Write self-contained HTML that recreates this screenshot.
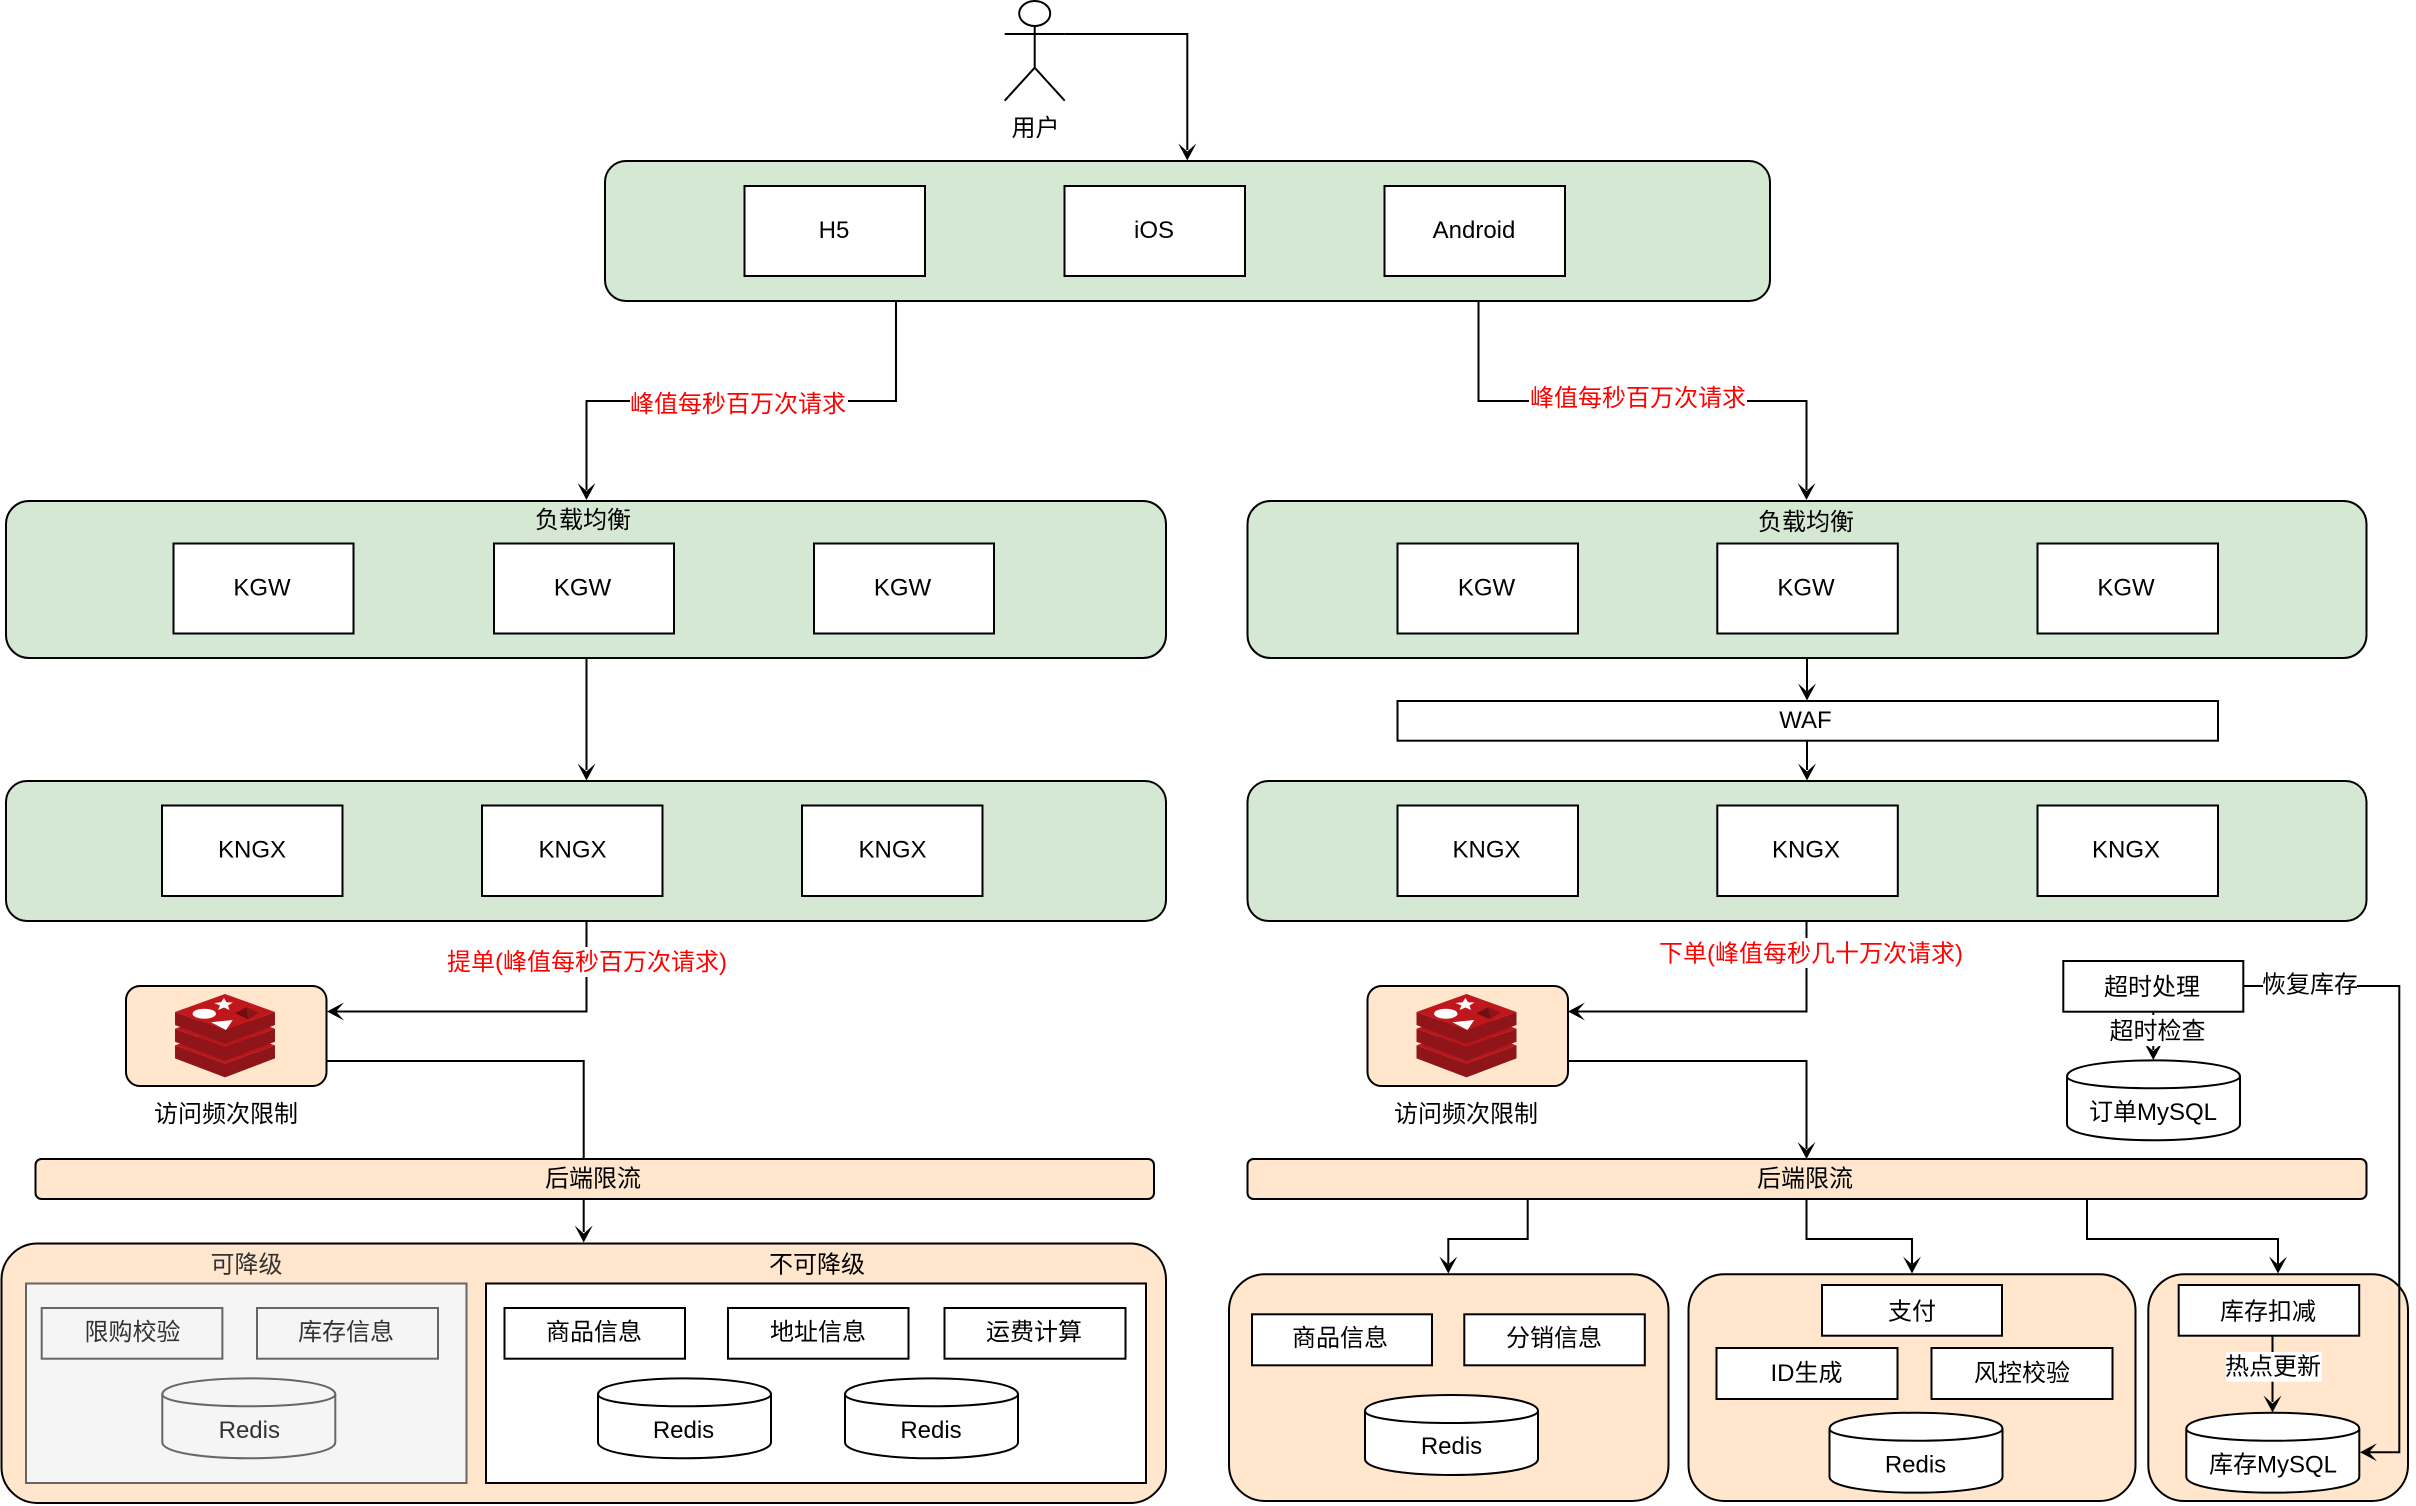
<!DOCTYPE html>
<html lang="zh">
<head>
<meta charset="utf-8">
<title>架构图</title>
<style>
html,body{margin:0;padding:0;background:#fff;width:2416px;height:1506px;overflow:hidden}
svg{display:block}
text{font-family:"Liberation Sans","Noto Sans CJK SC",sans-serif;font-size:24px;text-anchor:middle;fill:#000}
.g{fill:#d5e8d4;stroke:#000;stroke-width:2}
.o{fill:#ffe6cc;stroke:#000;stroke-width:2}
.w{fill:#fff;stroke:#000;stroke-width:2}
.y{fill:#f5f5f5;stroke:#666;stroke-width:2}
.l{fill:none;stroke:#000;stroke-width:2}
.b{fill:#fff;stroke:none}
.r{fill:#f00}
.d{fill:#333}
</style>
</head>
<body>
<svg xmlns="http://www.w3.org/2000/svg" width="2416" height="1506" viewBox="0 0 2416 1506">
<defs>
<g id="cyl">
<path d="M0 16C0 -5.300 173 -5.300 173 16V64C173 85.300 0 85.300 0 64Z"/>
<path fill="none" d="M0 16C0 32 173 32 173 16"/>
</g>
<path id="ad" d="M0 0L-17 -9L-9 0L-17 9Z" fill="#000" stroke="none"/>
<g id="redis">
<path d="M0 51.400L50 69.400L100 51.400V64.400L50 83.400L0 64.400Z" fill="#8f1518"/>
<path d="M50 33.400L100 51.400L50 69.400L0 51.400Z" fill="#b8161b"/>
<path d="M0 34.700L50 52.700L100 34.700V47.700L50 66.700L0 47.700Z" fill="#8f1518"/>
<path d="M50 16.700L100 34.700L50 52.700L0 34.700Z" fill="#b8161b"/>
<path d="M0 18L50 36L100 18V31L50 50L0 31Z" fill="#8f1518"/>
<path d="M50 0L100 18L50 36L0 18Z" fill="#bf171c"/>
<ellipse cx="29.300" cy="19.700" rx="11.700" ry="5" fill="#fff"/>
<path d="M49 4L51.500 8.200L58 8.500L53 11.500L54.500 16L49 13.500L43 16L45 11.500L39 9L46 8.200Z" fill="#fff"/>
<path d="M36 28.300L57.700 26L51 36Z" fill="#fff"/>
<path d="M60 19.300L71.700 13.300L73.300 25.300Z" fill="#6e1013"/>
<path d="M71.700 13.300L84 18.500L73.300 25.300Z" fill="#8e1417"/>
</g>
</defs>

<!-- actor -->
<ellipse class="l" cx="1034.700" cy="13.500" rx="15.500" ry="12.500"/>
<path class="l" d="M1034.700 26V67.700M1004.700 34H1064.700M1034.700 67.700L1004.700 100.700M1034.700 67.700L1064.700 100.700"/>
<text x="1035.500" y="136">用户</text>
<path class="l" d="M1064.700 34H1187.300V150"/>
<use href="#ad" transform="translate(1187.300 160.500) rotate(90)"/>

<!-- client container -->
<rect class="g" x="605" y="161" width="1165" height="140" rx="21" ry="21"/>
<rect class="w" x="744.500" y="186" width="180.500" height="90"/>
<rect class="w" x="1064.500" y="186" width="180.500" height="90"/>
<rect class="w" x="1384.500" y="186" width="180.500" height="90"/>
<text x="834" y="238">H5</text>
<text x="1154" y="238">iOS</text>
<text x="1474" y="238">Android</text>

<!-- branches -->
<path class="l" d="M896 301V401H586.500V490"/>
<use href="#ad" transform="translate(586.500 500) rotate(90)"/>
<rect class="b" x="630" y="388" width="218" height="30"/>
<text class="r" x="738" y="412">峰值每秒百万次请求</text>
<path class="l" d="M1478.500 301V401H1806.500V490"/>
<use href="#ad" transform="translate(1806.500 500) rotate(90)"/>
<rect class="b" x="1529" y="383" width="218" height="30"/>
<text class="r" x="1638" y="406">峰值每秒百万次请求</text>

<!-- LB left -->
<rect class="g" x="6" y="501" width="1160" height="157" rx="23" ry="23"/>
<text x="583" y="528">负载均衡</text>
<rect class="w" x="173.500" y="543.500" width="180" height="90"/>
<rect class="w" x="494" y="543.500" width="180" height="90"/>
<rect class="w" x="814" y="543.500" width="180" height="90"/>
<text x="262" y="595.500">KGW</text>
<text x="582.500" y="595.500">KGW</text>
<text x="902.500" y="595.500">KGW</text>

<!-- LB right -->
<rect class="g" x="1247.500" y="501" width="1119" height="157" rx="23" ry="23"/>
<text x="1806" y="530">负载均衡</text>
<rect class="w" x="1397.500" y="543.500" width="180.500" height="90"/>
<rect class="w" x="1717.300" y="543.500" width="180.500" height="90"/>
<rect class="w" x="2037.500" y="543.500" width="180.500" height="90"/>
<text x="1486.500" y="595.500">KGW</text>
<text x="1806" y="595.500">KGW</text>
<text x="2126" y="595.500">KGW</text>

<path class="l" d="M586.500 658V770"/>
<use href="#ad" transform="translate(586.500 780.500) rotate(90)"/>

<path class="l" d="M1807 658V691"/>
<use href="#ad" transform="translate(1807 700.500) rotate(90)"/>
<rect class="w" x="1397.500" y="701" width="820.500" height="39.700"/>
<text x="1805.500" y="728">WAF</text>
<path class="l" d="M1807 741V770"/>
<use href="#ad" transform="translate(1807 780.500) rotate(90)"/>

<!-- KNGX left -->
<rect class="g" x="6" y="781" width="1160" height="140" rx="21" ry="21"/>
<rect class="w" x="162" y="805.500" width="180.500" height="90.500"/>
<rect class="w" x="482" y="805.500" width="180.500" height="90.500"/>
<rect class="w" x="802" y="805.500" width="180.500" height="90.500"/>
<text x="252" y="857.500">KNGX</text>
<text x="572.500" y="857.500">KNGX</text>
<text x="892.500" y="857.500">KNGX</text>

<!-- KNGX right -->
<rect class="g" x="1247.500" y="781" width="1119" height="140" rx="21" ry="21"/>
<rect class="w" x="1397.500" y="805.500" width="180.500" height="90.500"/>
<rect class="w" x="1717.300" y="805.500" width="180.500" height="90.500"/>
<rect class="w" x="2037.500" y="805.500" width="180.500" height="90.500"/>
<text x="1486.500" y="857.500">KNGX</text>
<text x="1806" y="857.500">KNGX</text>
<text x="2126" y="857.500">KNGX</text>

<!-- left flow -->
<path class="l" d="M586.500 921V1011.500H336"/>
<use href="#ad" transform="translate(327 1011.500) rotate(180)"/>
<rect class="b" x="447" y="947" width="280" height="30"/>
<text class="r" x="587" y="970">提单(峰值每秒百万次请求)</text>
<rect class="o" x="126" y="986" width="200.500" height="100" rx="14" ry="14"/>
<use href="#redis" transform="translate(175 994)"/>
<text x="226" y="1122">访问频次限制</text>
<path class="l" d="M326.500 1061H583.700V1159"/>
<rect class="o" x="35.500" y="1159" width="1118.500" height="40" rx="6" ry="6"/>
<text x="593" y="1186.500">后端限流</text>
<path class="l" d="M583.700 1199V1232"/>
<use href="#ad" transform="translate(583.700 1242.500) rotate(90)"/>

<!-- left bottom container -->
<rect class="o" x="1.500" y="1243.500" width="1164.500" height="259.500" rx="36" ry="36"/>
<text class="d" x="246.500" y="1272.500">可降级</text>
<text x="817" y="1272.500">不可降级</text>
<rect class="y" x="26" y="1283.500" width="440.500" height="199.500"/>
<rect class="w" x="486" y="1283.500" width="660" height="199.500"/>
<rect class="y" x="41.700" y="1308" width="180.700" height="50.700"/>
<rect class="y" x="257" y="1308" width="181" height="50.700"/>
<text class="d" x="132.500" y="1340">限购校验</text>
<text class="d" x="346" y="1340">库存信息</text>
<use href="#cyl" x="162.300" y="1378.300" fill="#f5f5f5" stroke="#666" stroke-width="2"/>
<text class="d" x="249.300" y="1438">Redis</text>
<rect class="w" x="504.500" y="1308" width="180.500" height="50.700"/>
<rect class="w" x="728" y="1308" width="180.500" height="50.700"/>
<rect class="w" x="944.500" y="1308" width="181" height="50.700"/>
<text x="594" y="1340">商品信息</text>
<text x="818" y="1340">地址信息</text>
<text x="1034" y="1340">运费计算</text>
<use href="#cyl" x="598" y="1378.300" fill="#fff" stroke="#000" stroke-width="2"/>
<use href="#cyl" x="845" y="1378.300" fill="#fff" stroke="#000" stroke-width="2"/>
<text x="683.500" y="1438">Redis</text>
<text x="931" y="1438">Redis</text>

<!-- right flow -->
<path class="l" d="M1806.500 921V1011.500H1577"/>
<use href="#ad" transform="translate(1568 1011.500) rotate(180)"/>
<rect class="b" x="1656" y="938" width="308" height="30"/>
<text class="r" x="1811" y="961.500">下单(峰值每秒几十万次请求)</text>
<rect class="o" x="1367.500" y="986" width="200.500" height="100" rx="14" ry="14"/>
<use href="#redis" transform="translate(1416.500 994)"/>
<text x="1466" y="1122">访问频次限制</text>
<path class="l" d="M1568 1061H1806.500V1149"/>
<use href="#ad" transform="translate(1806.500 1159) rotate(90)"/>
<rect class="o" x="1247.500" y="1159" width="1119" height="40" rx="6" ry="6"/>
<text x="1805" y="1186.500">后端限流</text>

<path class="l" d="M1527.700 1199V1239H1448.300V1264"/>
<use href="#ad" transform="translate(1448.300 1273.500) rotate(90)"/>
<path class="l" d="M1806.500 1199V1239H1912V1264"/>
<use href="#ad" transform="translate(1912 1273.500) rotate(90)"/>
<path class="l" d="M2087 1199V1239H2278V1264"/>
<use href="#ad" transform="translate(2278 1273.500) rotate(90)"/>

<!-- bottom containers -->
<rect class="o" x="1229" y="1274.300" width="439.500" height="226.700" rx="36" ry="36"/>
<rect class="o" x="1688.500" y="1274.300" width="447" height="226.700" rx="36" ry="36"/>
<rect class="o" x="2148.300" y="1274.300" width="259.700" height="226.700" rx="36" ry="36"/>

<rect class="w" x="1252" y="1314.300" width="180" height="51"/>
<rect class="w" x="1464.300" y="1314.300" width="180.500" height="51"/>
<text x="1340" y="1346">商品信息</text>
<text x="1554" y="1346">分销信息</text>
<use href="#cyl" x="1365" y="1395" fill="#fff" stroke="#000" stroke-width="2"/>
<text x="1451.500" y="1454">Redis</text>

<rect class="w" x="1822" y="1285" width="180" height="50.700"/>
<rect class="w" x="1716.500" y="1348" width="181" height="51"/>
<rect class="w" x="1931.500" y="1348" width="181" height="51"/>
<text x="1912" y="1319.500">支付</text>
<text x="1806.500" y="1381">ID生成</text>
<text x="2022" y="1381">风控校验</text>
<use href="#cyl" x="1829.500" y="1412.700" fill="#fff" stroke="#000" stroke-width="2"/>
<text x="1915.500" y="1472.500">Redis</text>

<rect class="w" x="2178.700" y="1285" width="180.500" height="50.700"/>
<text x="2268" y="1319.500">库存扣减</text>
<path class="l" d="M2272.500 1336V1402"/>
<use href="#ad" transform="translate(2272.500 1412.500) rotate(90)"/>
<rect class="b" x="2226" y="1352" width="95.700" height="29.700"/>
<text x="2273" y="1374.500">热点更新</text>
<use href="#cyl" x="2186.300" y="1412.700" fill="#fff" stroke="#000" stroke-width="2"/>
<text x="2273" y="1472.500">库存MySQL</text>

<!-- timeout -->
<rect class="w" x="2063.300" y="961" width="180" height="50.700"/>
<text x="2152" y="995">超时处理</text>
<path class="l" d="M2153.300 1011.500V1050"/>
<use href="#ad" transform="translate(2153.300 1060) rotate(90)"/>
<rect class="b" x="2109" y="1015" width="97" height="31"/>
<text x="2157.500" y="1039">超时检查</text>
<use href="#cyl" x="2067" y="1060.300" fill="#fff" stroke="#000" stroke-width="2"/>
<text x="2153" y="1120">订单MySQL</text>

<path class="l" d="M2243.300 986H2399.300V1452.300H2369"/>
<use href="#ad" transform="translate(2360 1452.300) rotate(180)"/>
<rect class="b" x="2263" y="969" width="94" height="30"/>
<text x="2310" y="992.500">恢复库存</text>
</svg>
</body>
</html>
